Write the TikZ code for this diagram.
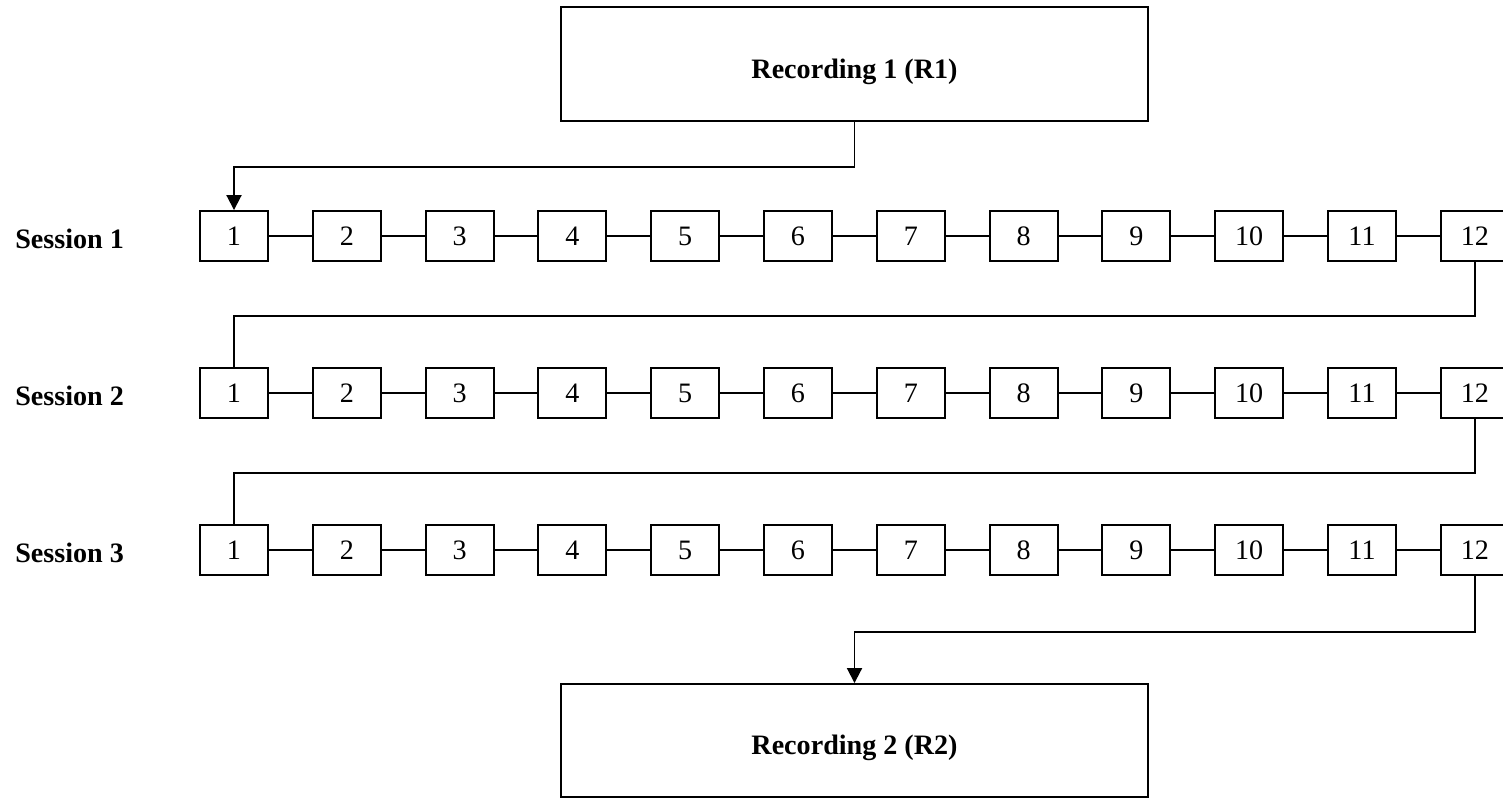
\documentclass[tikz,border=0pt]{standalone}
\usepackage{fontspec}
\setmainfont{Liberation Serif}
\usetikzlibrary{arrows.meta,positioning}
\tikzset{
    % small numbered boxes of one session
    stepbox/.style={
        draw, line width=1.1pt, minimum width=1.36cm, minimum height=1cm,
        inner sep=0pt, font=\fontsize{16}{19}\selectfont
    },
    % large recording boxes
    recbox/.style={
        draw, line width=1.1pt, minimum width=11.74cm, minimum height=2.28cm,
        text height=0.7cm, font=\fontsize{16}{19}\selectfont\bfseries
    },
    sesslabel/.style={anchor=west, inner sep=0pt, font=\fontsize{16}{19}\selectfont\bfseries},
    link/.style={line width=1.1pt},
    arc/.style={-{Triangle[length=3mm,width=3mm]}, line width=1.1pt},
}
\begin{document}
\begin{tikzpicture}[x=0.02cm,y=-0.02cm]
    \useasboundingbox (0,0) rectangle (1503,798);
    \node[recbox] (r1) at (854.5,64) {Recording 1 (R1)};
    \node[recbox, minimum height=2.26cm] (r2) at (854.5,740.5) {Recording 2 (R2)};
    \foreach \s/\y in {1/236,2/393,3/550}{
        \node[sesslabel] (lab\s) at (15,\y+3) {Session \s};
        \foreach \i in {1,...,12}{\node[stepbox] (s\s-\i) at ({234+112.8*(\i-1)},\y) {\i};}
        \foreach \i [count=\j from 2] in {1,...,11}{\draw[link] (s\s-\i) -- (s\s-\j);}
    }
    \draw[arc] (r1.south) -- ++(0,45) -| (s1-1.north);
    \draw[link] (s1-12.south) -- ++(0,54) -| (s2-1.north);
    \draw[link] (s2-12.south) -- ++(0,54) -| (s3-1.north);
    \draw[arc] (s3-12.south) -- ++(0,56) -| (r2.north);
\end{tikzpicture}
\end{document}
